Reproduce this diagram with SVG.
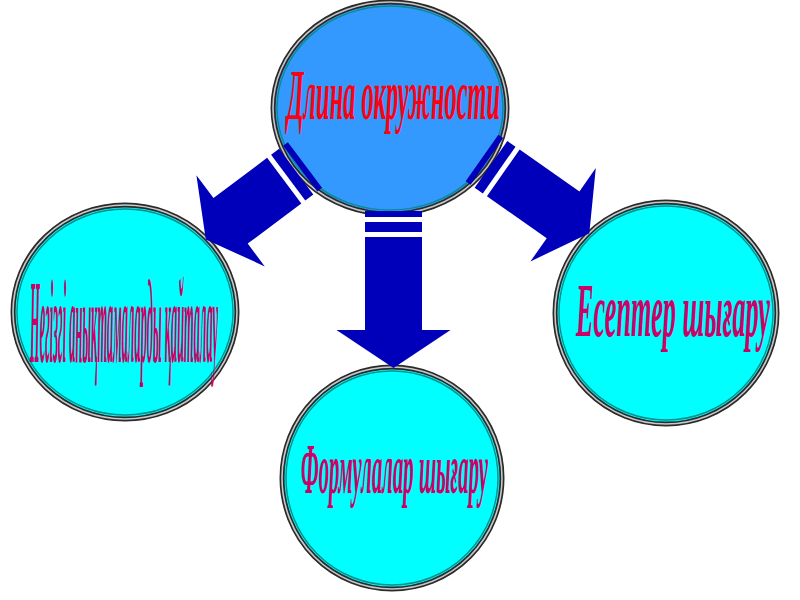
<svg xmlns="http://www.w3.org/2000/svg" width="800" height="600" viewBox="0 0 800 600">
<defs>
<style>
.ring{stroke:#2a2a2a;stroke-width:5}
.ringmid{fill:none;stroke:#c8c8c8;stroke-width:1.6}
.ringin{fill:none;stroke:#0a8c8c;stroke-width:1.4}
.cyan{fill:#00ffff}
.topfill{fill:#3399ff}
.arr{fill:#0000bb}
.lbl{font-family:"Liberation Serif","DejaVu Serif",serif;font-style:italic;font-weight:bold}
.red{fill:#ff0010}
.mag{fill:#cc0066}
</style>
</defs>
<rect width="800" height="600" fill="#ffffff"/>

<g id="node-top">
<ellipse cx="390" cy="108" rx="117" ry="106" class="topfill ring"/>
<ellipse cx="390" cy="108" rx="117" ry="106" class="ringmid"/>
<ellipse cx="390" cy="108" rx="113" ry="102" class="ringin"/>
</g>

<g id="node-left">
<ellipse cx="125" cy="312" rx="112" ry="107" class="cyan ring"/>
<ellipse cx="125" cy="312" rx="112" ry="107" class="ringmid"/>
<ellipse cx="125" cy="312" rx="108" ry="103" class="ringin"/>
<text class="lbl mag" transform="scale(0.12,1)" x="250" y="362" font-size="118" textLength="1566.67" lengthAdjust="spacingAndGlyphs">Негізгі анықтамаларды қайталау</text>
</g>

<g id="node-right">
<ellipse cx="666" cy="313" rx="111" ry="111" class="cyan ring"/>
<ellipse cx="666" cy="313" rx="111" ry="111" class="ringmid"/>
<ellipse cx="666" cy="313" rx="107" ry="107" class="ringin"/>
<text class="lbl mag" transform="scale(0.37,1)" x="1556.76" y="336" font-size="76" textLength="524.32" lengthAdjust="spacingAndGlyphs">Есептер шығару</text>
</g>

<g id="node-bottom">
<ellipse cx="392" cy="478" rx="110" ry="111" class="cyan ring"/>
<ellipse cx="392" cy="478" rx="110" ry="111" class="ringmid"/>
<ellipse cx="392" cy="478" rx="106" ry="107" class="ringin"/>
<text class="lbl mag" transform="scale(0.29,1)" x="1037.93" y="493" font-size="72" textLength="644.83" lengthAdjust="spacingAndGlyphs">Формулалар  шығару</text>
</g>

<g id="connectors">
<g transform="translate(393.5,211)">
<rect class="arr" x="-28.5" y="0" width="57" height="6"/>
<rect class="arr" x="-28.5" y="11" width="57" height="10"/>
<polygon class="arr" points="-28.5,26 28.5,26 28.5,119 57,119 0,157 -57,119 -28.5,119"/>
</g>
<g transform="translate(305,165) rotate(53.13)">
<rect class="arr" x="-28.5" y="0" width="57" height="6"/>
<rect class="arr" x="-28.5" y="11" width="57" height="10"/>
<polygon class="arr" points="-28.5,26 28.5,26 28.5,93 57,93 0,124 -57,93 -28.5,93"/>
</g>
<g transform="translate(482,158) rotate(-55)">
<rect class="arr" x="-28.5" y="0" width="57" height="6"/>
<rect class="arr" x="-28.5" y="11" width="57" height="10"/>
<polygon class="arr" points="-28.5,26 28.5,26 28.5,99 57,99 0,131 -57,99 -28.5,99"/>
</g>
</g>

<g id="label-top">
<text class="lbl red" transform="scale(0.35,1)" x="820" y="119" font-size="72" textLength="608.57" lengthAdjust="spacingAndGlyphs">Длина  окружности</text>
</g>
</svg>
